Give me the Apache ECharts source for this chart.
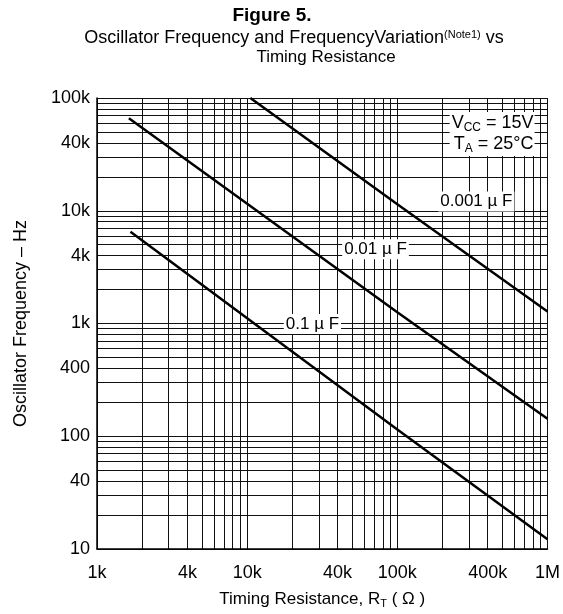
<!DOCTYPE html>
<html><head><meta charset="utf-8">
<script src="https://cdn.jsdelivr.net/npm/echarts@6/dist/echarts.min.js"></script>
<style>html,body{margin:0;padding:0;background:#fff}#c{width:563px;height:614px}</style>
</head><body><div id="c"></div>
<script>
// Tick labels
const xLabelValues = [1000, 4000, 10000, 40000, 100000, 400000, 1000000];
const yLabelValues = [10, 40, 100, 400, 1000, 4000, 10000, 40000, 100000];
// Grid (1..9 per decade)
const xGridValues = [1000,2000,3000,4000,5000,6000,7000,8000,9000,10000,20000,30000,40000,50000,60000,70000,80000,90000,100000,200000,300000,400000,500000,600000,700000,800000,900000,1000000];
const yGridValues = [10,20,30,40,50,60,70,80,90,100,200,300,400,500,600,700,800,900,1000,2000,3000,4000,5000,6000,7000,8000,9000,10000,20000,30000,40000,50000,60000,70000,80000,90000,100000];
// Series: [R (ohm), f (Hz)]
const cap0001uF = [[10500, 100000], [100000, 11400], [1000000, 1280]];
const cap001uF = [[1630, 66000], [100000, 1260], [1000000, 143]];
const cap01uF = [[1670, 6500], [100000, 115], [1000000, 12.2]];

const FONT = 'Liberation Sans, Arial, sans-serif';
function fmt(v) {
  if (v >= 1e6) return (v / 1e6) + 'M';
  if (v >= 1000) return (v / 1000) + 'k';
  return String(v);
}
function lineSeries(name, data, labelCoord) {
  return {
    name, type: 'line', data, showSymbol: false, z: 5,
    lineStyle: { color: '#000', width: 2.5 },
    markPoint: {
      symbol: 'rect', symbolSize: 1, itemStyle: { color: 'rgba(0,0,0,0)' },
      label: {
        show: true, position: 'inside', color: '#000', fontFamily: FONT, fontSize: 17,
        backgroundColor: '#fff', padding: [2, 2, 1, 2], formatter: name
      },
      data: [{ coord: labelCoord }]
    }
  };
}
const chart = echarts.init(document.getElementById('c'), null, { renderer: 'canvas' });
chart.setOption({
  animation: false,
  backgroundColor: '#fff',
  grid: { left: 97, right: 10, top: 98, bottom: 63 },
  graphic: [
    { type: 'text', x: 272, y: 6, style: { text: 'Figure 5.', font: 'bold 19px ' + FONT, fill: '#000', textAlign: 'center' } },
    { type: 'text', x: 294, y: 29, style: {
      text: '{a|Oscillator Frequency and FrequencyVariation}{s|(Note1)}{a| vs}',
      textAlign: 'center', fill: '#000',
      rich: { a: { fontFamily: FONT, fontSize: 18, lineHeight: 19 }, s: { fontFamily: FONT, fontSize: 11, verticalAlign: 'top', lineHeight: 19 } }
    } },
    { type: 'text', x: 326, y: 49, style: { text: 'Timing Resistance', font: '17px ' + FONT, fill: '#000', textAlign: 'center' } }
  ],
  xAxis: {
    type: 'log', min: 1000, max: 1000000, logBase: 10,
    name: '{a|Timing Resistance, R}{s|T}{a| ( Ω )}', nameLocation: 'middle', nameGap: 40,
    nameTextStyle: { rich: { a: { fontFamily: FONT, fontSize: 17, color: '#000', lineHeight: 20 }, s: { fontFamily: FONT, fontSize: 11, color: '#000', verticalAlign: 'bottom', lineHeight: 14 } } },
    axisLine: { lineStyle: { color: '#000', width: 1.5 } },
    axisTick: { show: false, customValues: xGridValues },
    axisLabel: { customValues: xLabelValues, formatter: fmt, color: '#000', fontFamily: FONT, fontSize: 18, margin: 15 },
    splitLine: { show: true, lineStyle: { color: '#111', width: 1 } }
  },
  yAxis: {
    type: 'log', min: 10, max: 100000, logBase: 10,
    name: 'Oscillator Frequency – Hz', nameLocation: 'middle', nameGap: 67, nameRotate: 90,
    nameTextStyle: { fontFamily: FONT, fontSize: 18, color: '#000' },
    axisLine: { show: true, lineStyle: { color: '#000', width: 1.5 } },
    axisTick: { show: false, customValues: yGridValues },
    axisLabel: { customValues: yLabelValues, formatter: fmt, color: '#000', fontFamily: FONT, fontSize: 18, margin: 7 },
    splitLine: { show: true, lineStyle: { color: '#111', width: 1 } }
  },
  series: [
    lineSeries('0.001 µ F', cap0001uF, [336000, 12100]),
    lineSeries('0.01 µ F', cap001uF, [71600, 4550]),
    lineSeries('0.1 µ F', cap01uF, [27200, 990]),
    {
      type: 'line', data: [], silent: true,
      markPoint: {
        symbol: 'rect', symbolSize: 1, itemStyle: { color: 'rgba(0,0,0,0)' },
        label: {
          show: true, position: 'inside', backgroundColor: '#fff', padding: [1, 1, 1, 2], align: 'right',
          formatter: '{n|V}{s|CC}{n| = 15V}\n{n|T}{s|A}{n| = 25°C}',
          rich: {
            n: { fontFamily: FONT, fontSize: 18, color: '#000', lineHeight: 21, align: 'right' },
            s: { fontFamily: FONT, fontSize: 12, color: '#000', lineHeight: 12, verticalAlign: 'bottom' }
          }
        },
        data: [{ coord: [820000, 48000] }]
      }
    }
  ]
});
</script></body></html>
